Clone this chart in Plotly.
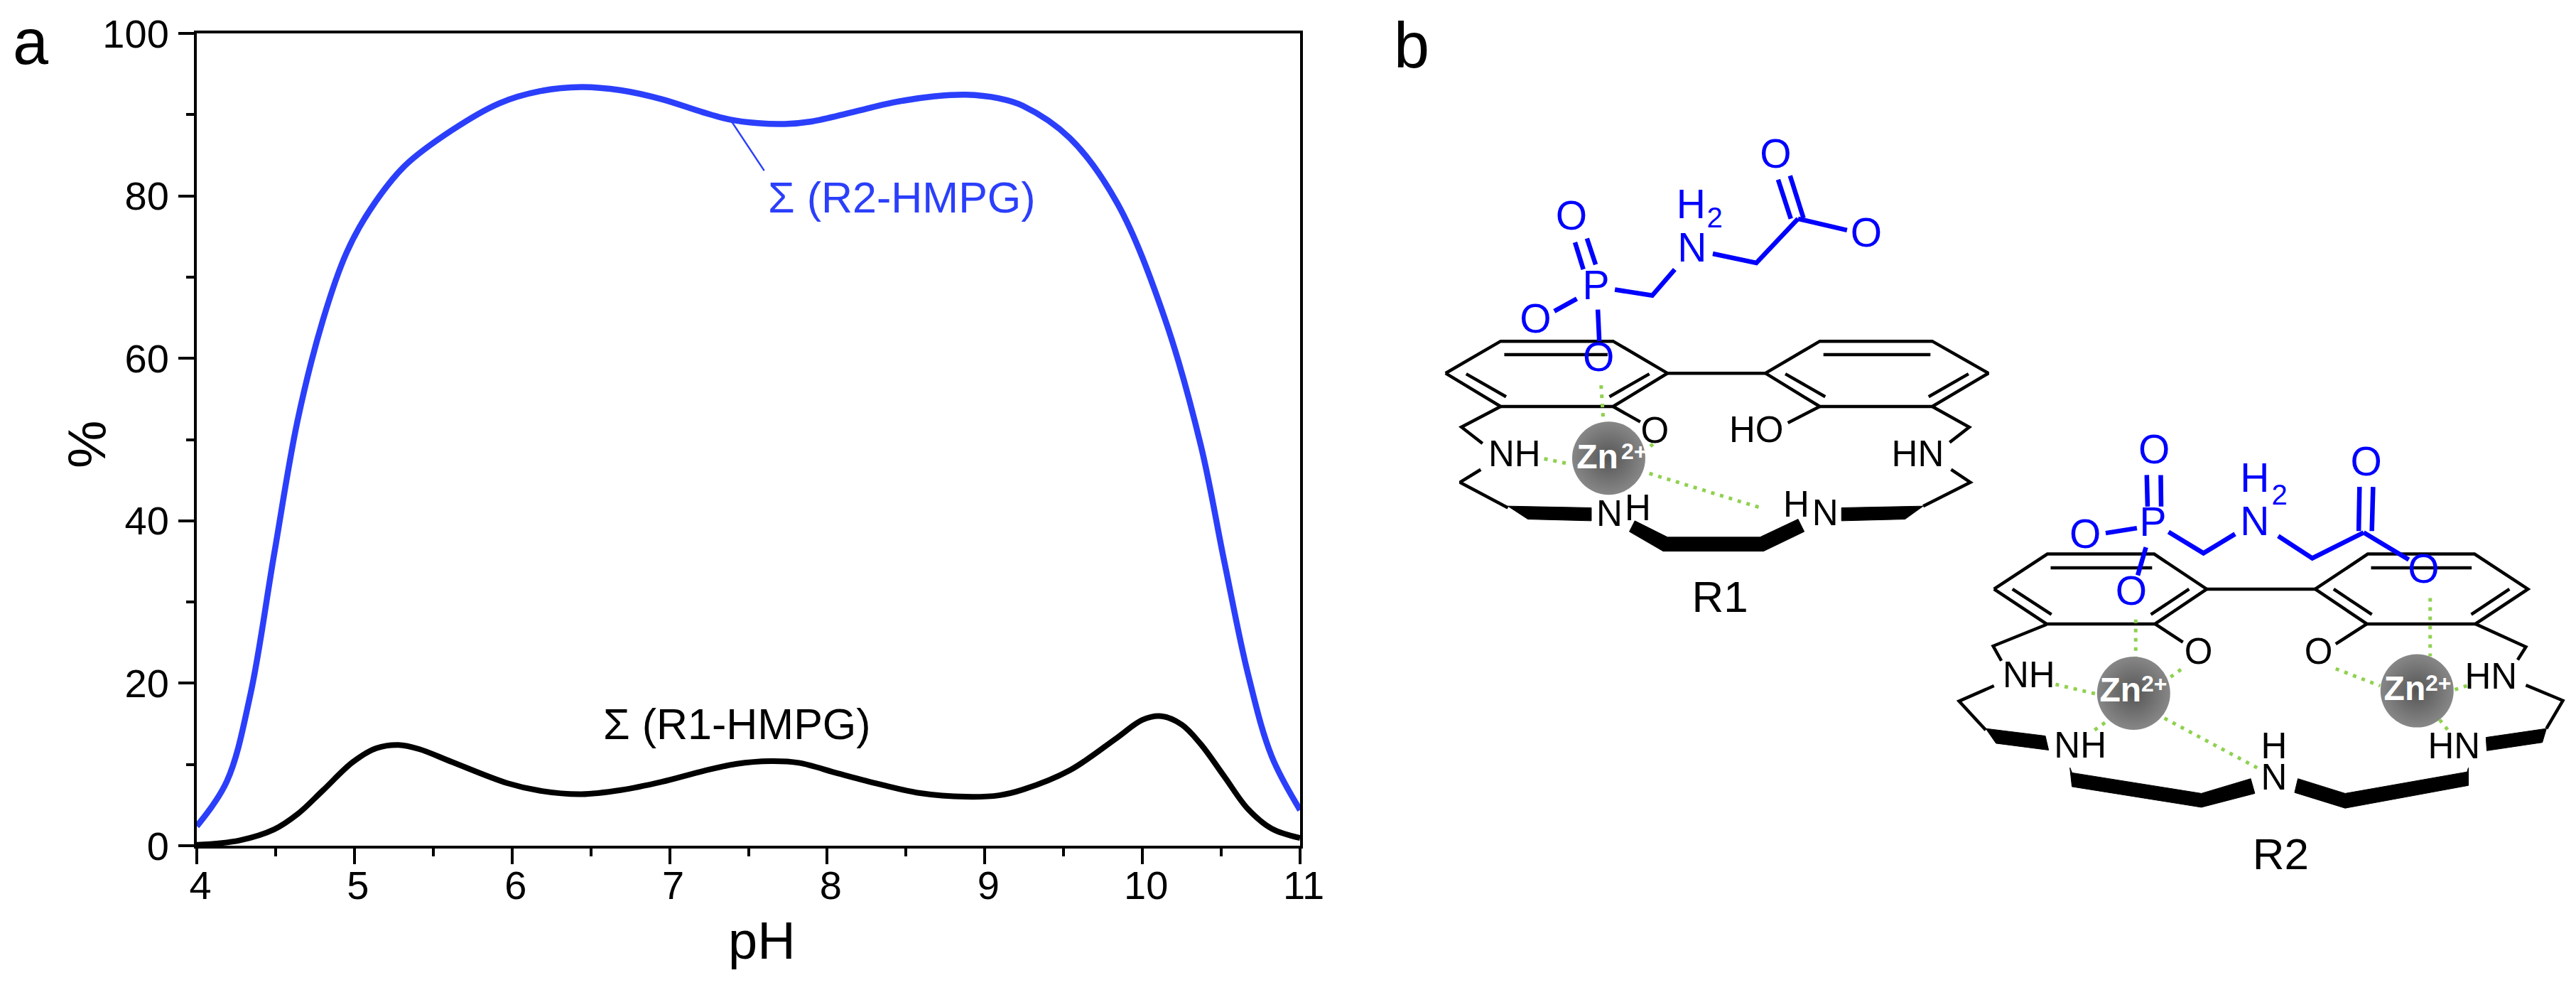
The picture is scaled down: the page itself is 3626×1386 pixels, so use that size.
import plotly.graph_objects as go

W, H = 3626, 1386
FONT = "Liberation Sans"
CURVE_BLUE = "#2b3ffb"
MOL_BLUE = "#0000ff"
GREEN = "#8fd14f"

# ---- panel a data
ph_r2 = [4.0, 4.19, 4.34, 4.49, 4.64, 4.8, 4.95, 5.1, 5.32, 5.62, 5.92, 6.18, 6.44, 6.69, 6.95, 7.21, 7.38, 7.56, 7.73,
         7.9, 8.16, 8.42, 8.68, 8.88, 9.09, 9.24, 9.54, 9.84, 10.14, 10.37, 10.52, 10.67, 10.82, 11.0]
r2_hmpg = [2.4, 7.9, 18.6, 35.8, 52.4, 64.7, 73.0, 78.3, 83.7, 88.1, 91.4, 92.9, 93.4, 93.0, 91.9, 90.3, 89.4, 88.95, 88.85,
           89.15, 90.3, 91.5, 92.25, 92.45, 92.0, 91.1, 87.1, 79.1, 65.0, 49.3, 34.9, 21.1, 11.0, 4.4]
ph_r1 = [4.0, 4.27, 4.49, 4.64, 4.8, 4.99, 5.14, 5.28, 5.41, 5.62, 5.97, 6.18, 6.44, 6.69, 6.95, 7.21, 7.42,
         7.64, 7.82, 8.07, 8.33, 8.59, 8.88, 9.09, 9.24, 9.54, 9.84, 10.0, 10.12, 10.25, 10.37, 10.52,
         10.67, 10.82, 11.0]
r1_hmpg = [0.1, 0.65, 2.0, 3.9, 6.8, 10.3, 12.0, 12.4, 11.9, 10.3, 7.7, 6.76, 6.35, 6.85, 7.87, 9.18, 10.06,
           10.41, 10.2, 8.89, 7.58, 6.47, 6.03, 6.2, 6.9, 9.3, 13.3, 15.5, 15.95, 14.9, 12.5, 8.5,
           4.5, 2.1, 0.95]
leader_ph = [7.39, 7.6]
leader_pct = [89.25, 83.1]

# ---- panel b: R1 drawing, in a 1567x1567 frame
r1_black = [
    [(68,773),(220,675),(530,675),(680,773),(530,875),(220,875),(68,773)],
    [(230,716),(515,716)], [(125,775),(235,845)], [(520,845),(630,775)],
    [(680,773),(950,773)],
    [(950,773),(1100,675),(1410,675),(1565,773),(1410,875),(1100,875),(950,773)],
    [(1110,716),(1405,716)], [(1005,775),(1115,845)], [(1400,845),(1510,775)],
    [(220,875),(112,938),(170,988)], [(530,875),(605,922)], [(1100,875),(1012,925)],
    [(1410,875),(1512,938),(1458,985)],
    [(165,1068),(108,1107),(240,1185)], [(1462,1068),(1515,1107),(1385,1180)],
]
r1_wedges = [
    [(240,1180),(470,1185),(470,1225),(295,1220),(240,1180)],
    [(1385,1180),(1160,1185),(1160,1225),(1335,1220),(1385,1180)],
    [(590,1225),(680,1275),(935,1275),(1040,1220),(1057,1258),(945,1318),(668,1318),(575,1258),(590,1225)],
]
r1_blue = [
    [(430,545),(368,583)], [(425,372),(448,455)], [(458,360),(482,440)], [(488,578),(492,675)],
    [(535,517),(638,535),(700,455)], [(805,407),(925,435),(1040,300)],
    [(985,180),(1020,300)], [(1018,168),(1055,298)], [(1040,300),(1175,335)],
]
r1_green = [
    [(497,810),(503,915)], [(340,1035),(415,1052)], [(630,1080),(945,1188)], [(640,990),(625,1005)],
]
r1_zn = [(518,1033)]
r1_blue_text = [(415,303,"O"),(483,515,"P"),(316,618,"O"),(490,735,"O"),(748,400,"N"),(745,268,"H"),(978,112,"O"),(1228,355,"O")]
r1_blue_sub = [(810,305,"2")]
r1_black_text = [(258,1030,"NH"),(645,958,"O"),(925,955,"HO"),(1370,1030,"HN"),(520,1212,"N"),(598,1195,"H"),(1035,1185,"H"),(1115,1210,"N")]
r1_zn_text = [(487,1038)]
r1_zn_sup = [(588,1018)]
r1_name = (825,1470,"R1")

# ---- panel b: R2 drawing, in a 1567x1567 frame
r2_black = [
    [(150,552),(280,433),(540,433),(668,552),(542,670),(278,670),(150,552)],
    [(288,480),(535,480)], [(195,552),(290,638)], [(532,638),(625,552)],
    [(668,552),(932,552)],
    [(932,552),(1060,433),(1320,433),(1450,552),(1322,670),(1058,670),(932,552)],
    [(1068,480),(1313,480)], [(977,552),(1070,638)], [(1312,638),(1405,552)],
    [(278,672),(148,745),(168,795)], [(542,670),(610,732)], [(1058,670),(982,738)],
    [(1322,670),(1445,748),(1425,792)],
    [(150,880),(65,932),(130,1030)], [(1445,878),(1535,930),(1495,1025)],
]
r2_wedges = [
    [(130,1025),(275,1050),(283,1098),(155,1075),(130,1025)],
    [(1495,1025),(1348,1055),(1350,1100),(1485,1072),(1495,1025)],
    [(335,1158),(340,1175),(655,1245),(775,1195),(785,1245),(655,1292),(340,1222),(335,1158)],
    [(890,1195),(1005,1245),(1302,1172),(1305,1158),(1305,1218),(1005,1295),(882,1242),(890,1195)],
]
r2_blue = [
    [(522,165),(524,272)], [(556,165),(557,272)], [(422,362),(498,345)], [(520,410),(500,505)],
    [(575,358),(660,430),(737,365)], [(842,372),(925,447),(1050,360)],
    [(1040,205),(1038,355)], [(1073,205),(1070,355)], [(1050,360),(1160,452)],
]
r2_green = [
    [(495,655),(495,785)], [(300,875),(400,908)], [(580,850),(615,815)], [(395,1030),(425,1000)],
    [(565,990),(800,1165)], [(1212,582),(1212,780)], [(982,822),(1090,880)], [(1272,893),(1305,878)],
    [(1235,995),(1255,1030)],
]
r2_zn = [(490,905),(1180,897)]
r2_blue_text = [(540,92,"O"),(537,338,"P"),(372,378,"O"),(484,570,"O"),(785,335,"N"),(785,188,"H"),(1056,132,"O"),(1196,495,"O")]
r2_blue_sub = [(845,240,"2")]
r2_black_text = [(235,855,"NH"),(648,775,"O"),(940,775,"O"),(1360,858,"HN"),(360,1092,"NH"),(832,1095,"H"),(832,1200,"N"),(1270,1095,"HN")]
r2_zn_text = [(458,905),(1150,900)]
r2_zn_sup = [(540,880),(1232,878)]
r2_name = (848,1465,"R2")

fig = go.Figure()

def line(xs, ys, color, width, xa="x", ya="y", dash=None, shape="linear"):
    fig.add_trace(go.Scatter(x=xs, y=ys, mode="lines", xaxis=xa, yaxis=ya, cliponaxis=False,
                             line=dict(color=color, width=width, dash=dash, shape=shape),
                             hoverinfo="skip", showlegend=False))

def poly(pts, color, width, xa, ya, dash=None):
    line([p[0] for p in pts], [p[1] for p in pts], color, width, xa, ya, dash)

def wedge(pts, xa, ya):
    fig.add_trace(go.Scatter(x=[p[0] for p in pts], y=[p[1] for p in pts], mode="lines", fill="toself",
                             fillcolor="black", line=dict(color="black", width=1), xaxis=xa, yaxis=ya,
                             cliponaxis=False, hoverinfo="skip", showlegend=False))

def text(items, size, color, xa, ya, bold=False):
    fig.add_trace(go.Scatter(x=[t[0] for t in items], y=[t[1] for t in items], mode="text",
                             text=[t[2] for t in items], textposition="middle center",
                             textfont=dict(family=FONT, size=size, color=color,
                                           weight=700 if bold else 400),
                             xaxis=xa, yaxis=ya, cliponaxis=False, hoverinfo="skip", showlegend=False))

# panel a curves
line(leader_ph, leader_pct, CURVE_BLUE, 2.5)
line(ph_r2, r2_hmpg, CURVE_BLUE, 8.5, shape="spline")
line(ph_r1, r1_hmpg, "black", 8, shape="spline")

# panel b molecules
for xa, ya, black, wedges, blue, green, zn, btxt, bsub, ktxt, ztxt, zsup, name in [
    ("x2", "y2", r1_black, r1_wedges, r1_blue, r1_green, r1_zn, r1_blue_text, r1_blue_sub, r1_black_text, r1_zn_text, r1_zn_sup, r1_name),
    ("x3", "y3", r2_black, r2_wedges, r2_blue, r2_green, r2_zn, r2_blue_text, r2_blue_sub, r2_black_text, r2_zn_text, r2_zn_sup, r2_name),
]:
    for p in black:
        poly(p, "black", 4.5, xa, ya)
    for p in wedges:
        wedge(p, xa, ya)
    for p in green:
        poly(p, GREEN, 5, xa, ya, dash="5px,8px")
    fig.add_trace(go.Scatter(x=[z[0] for z in zn], y=[z[1] for z in zn], mode="markers", xaxis=xa, yaxis=ya,
                             cliponaxis=False, hoverinfo="skip", showlegend=False,
                             marker=dict(size=103, color="#878787", line=dict(width=0),
                                         gradient=dict(type="radial", color="#555555"))))
    for p in blue:
        poly(p, MOL_BLUE, 6.5, xa, ya)
    text(btxt, 57, MOL_BLUE, xa, ya)
    text(bsub, 40, MOL_BLUE, xa, ya)
    text(ktxt, 51, "black", xa, ya)
    text([(z[0], z[1], "Zn") for z in ztxt], 48, "white", xa, ya, bold=True)
    text([(z[0], z[1], "2+") for z in zsup], 32, "white", xa, ya, bold=True)
    text([name], 62, "black", xa, ya)

axis_common = dict(showgrid=False, zeroline=False, showline=True, linewidth=4, linecolor="black", mirror=True,
                   ticks="outside", ticklen=22, tickwidth=4, tickcolor="black", automargin=False,
                   tickfont=dict(family=FONT, size=56, color="black"))

hidden = dict(visible=False, showgrid=False, zeroline=False, fixedrange=True, automargin=False)

fig.update_layout(
    template="none",
    width=W, height=H, margin=dict(l=0, r=0, t=0, b=0, pad=0), autosize=False,
    paper_bgcolor="white", plot_bgcolor="rgba(0,0,0,0)", showlegend=False,
    xaxis=dict(domain=[277/W, 1830/W], range=[4, 11], tickmode="linear", tick0=4, dtick=1,
               minor=dict(dtick=0.5, ticks="outside", ticklen=11, tickwidth=4, tickcolor="black", showgrid=False),
               ticklabelshift=5, ticklabelstandoff=-18, **axis_common),
    yaxis=dict(domain=[1-1190/H, 1-47/H], range=[0, 100], tickmode="linear", tick0=0, dtick=20,
               minor=dict(dtick=10, ticks="outside", ticklen=11, tickwidth=4, tickcolor="black", showgrid=False),
               ticklabelstandoff=2, **axis_common),
    xaxis2=dict(domain=[2000/W, 2800/W], range=[0, 1567], anchor="y2", **hidden),
    yaxis2=dict(domain=[1-890/H, 1-170/H], range=[1567, 0], anchor="x2", **hidden),
    xaxis3=dict(domain=[2720/W, 1.0], range=[0, 1567], anchor="y3", **hidden),
    yaxis3=dict(domain=[1-1250/H, 1-600/H], range=[1567, 0], anchor="x3", **hidden),
    annotations=[
        dict(text="a", xref="paper", yref="paper", x=16/W, xanchor="left", y=1-7/H, yanchor="top", showarrow=False, font=dict(family=FONT, size=90, color="black")),
        dict(text="b", xref="paper", yref="paper", x=1987/W, xanchor="center", y=1-12/H, yanchor="top", showarrow=False, font=dict(family=FONT, size=90, color="black")),
        dict(text="pH", xref="paper", yref="paper", x=1072/W, xanchor="center", y=1-1367/H, yanchor="bottom", showarrow=False, font=dict(family=FONT, size=74, color="black")),
        dict(text="%", xref="paper", yref="paper", x=121/W, xanchor="center", y=1-625/H, yanchor="middle", textangle=-90, showarrow=False, font=dict(family=FONT, size=76, color="black")),
        dict(text="Σ (R2-HMPG)", xref="x", yref="y", x=8.475, y=79.8, showarrow=False, font=dict(family=FONT, size=61, color=CURVE_BLUE)),
        dict(text="Σ (R1-HMPG)", xref="x", yref="y", x=7.43, y=15.0, showarrow=False, font=dict(family=FONT, size=61, color="black")),
    ],
)

fig.write_html("out.html", config=dict(displayModeBar=False),
               post_script="document.body.style.margin='0';document.documentElement.style.overflow='hidden';")
